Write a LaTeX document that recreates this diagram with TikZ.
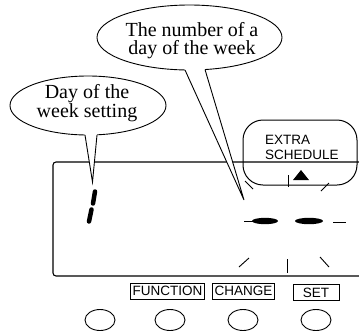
\documentclass[tikz,border=0pt]{standalone}
\usepackage{fontspec}
\setmainfont{Liberation Serif}
\setsansfont{Liberation Sans}
\usetikzlibrary{shapes.geometric}
\begin{document}
\begin{tikzpicture}[x=1bp,y=-1bp,
  bubble/.style={draw, line width=0.9bp, fill=white},
  tailline/.style={line width=0.9bp, line join=miter},
  bubbletext/.style={font=\fontsize{20bp}{18bp}\selectfont, align=center, inner sep=0},
  keylabel/.style={draw, line width=0.8bp, font=\sffamily\fontsize{13.5bp}{14bp}\selectfont,
     inner xsep=2.5bp, inner ysep=3.2bp, text height=9.7bp, text depth=0bp},
  button/.style={draw, line width=0.9bp, ellipse, minimum width=30bp, minimum height=21bp, inner sep=0},
  seg/.style={line width=4.5bp, line cap=round},
  blink/.style={line width=0.9bp}
]
\useasboundingbox (0,0) rectangle (359,331);
% display outline
\coordinate (dtr) at (359,162);
\coordinate (dtl) at (53,162);
\coordinate (dbl) at (53,276);
\coordinate (dbr) at (359,276);
\draw[line width=1.1bp, rounded corners=3bp] (dtr) -- (dtl) -- (dbl) -- (dbr);
% extra schedule frame
\coordinate (exa) at (243,120);
\coordinate (exb) at (357,185);
\draw[line width=1bp, rounded corners=20bp] (exa) rectangle (exb);
\node[anchor=north west, align=left, inner sep=0,
      font=\sffamily\fontsize{13.5bp}{14.5bp}\selectfont] (extra) at (265,135.3) {EXTRA\\SCHEDULE};
\fill (293,180) -- (309,180) -- (301,170) -- cycle;
\draw[blink] (288,175) -- (288,187);
% blinking marks
\draw[blink] (245,181) -- (253,189);
\draw[blink] (321,191) -- (329,183);
\draw[blink] (239,267) -- (249,258);
\draw[blink] (287,259) -- (287,273);
\draw[blink] (320,257) -- (329,267);
% dashes
\fill (265,221) ellipse [x radius=13, y radius=3.2];
\fill (309,221) ellipse [x radius=14, y radius=3.2];
\draw[blink] (244,221) -- (253,221);
\draw[blink] (333,222) -- (346,222);
% day digit
\draw[seg] (95,191.5) -- (93,203.5);
\draw[seg] (91.5,209.5) -- (89,221.5);
% left bubble
\coordinate (lc) at (88,105.5);
\draw[bubble] (lc) ellipse [x radius=78, y radius=29.5];
\coordinate (ltip) at (92.5,182);
\fill[white] (84.5,132) -- (ltip) -- (97.3,132) -- cycle;
\draw[tailline] (85,135) -- (ltip) -- (97,135);
\node[bubbletext] (daytext) at (87,103) {Day of the\\week setting};
% big bubble
\coordinate (bc) at (189.5,37.5);
\draw[bubble] (bc) ellipse [x radius=92.5, y radius=32.5];
\coordinate (btip) at (244,200);
\fill[white] (183.2,66) -- (btip) -- (204,66) -- cycle;
\draw[tailline] (185,70) -- (btip) -- (205,69.5);
\node[bubbletext] (numtext) at (192,41) {The number of a\\day of the week};
% key labels
\node[keylabel] (fn) at (167.5,291) {FUNCTION};
\node[keylabel] (ch) at (243.5,291) {CHANGE};
\node[keylabel, minimum width=46bp] (st) at (316,292.5) {SET};
% buttons
\node[button] (b1) at (100,320) {};
\node[button] (b2) at (170,320) {};
\node[button] (b3) at (243,320) {};
\node[button] (b4) at (316,320) {};
\end{tikzpicture}
\end{document}
